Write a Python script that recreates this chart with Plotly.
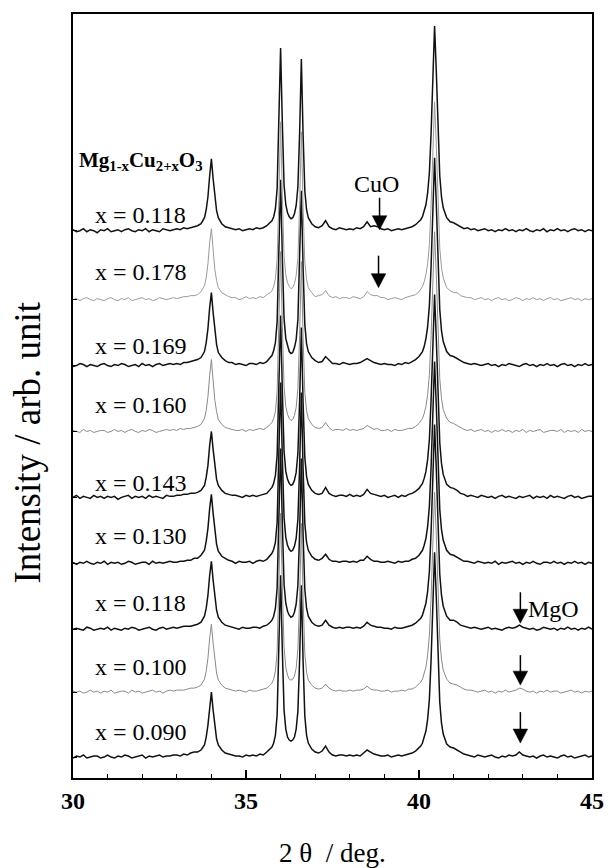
import plotly.graph_objects as go

# ---------------- data ----------------
two_theta = [
    30.0, 30.1, 30.2, 30.3, 30.4, 30.5, 30.6, 30.7, 30.8, 30.9, 31.0, 31.1, 31.2, 31.3, 31.4, 31.5, 31.6, 31.7,
    31.8, 31.9, 32.0, 32.1, 32.2, 32.3, 32.4, 32.5, 32.6, 32.7, 32.8, 32.9, 33.0, 33.1, 33.2, 33.3, 33.4, 33.5,
    33.6, 33.7, 33.8, 33.85, 33.9, 33.95, 34.0, 34.05, 34.1, 34.15, 34.2, 34.3, 34.4, 34.5,
    34.6, 34.7, 34.8, 34.9, 35.0, 35.1, 35.2, 35.3, 35.4, 35.5, 35.6, 35.7,
    35.75, 35.8, 35.85, 35.9, 35.95, 36.0, 36.05, 36.1, 36.15, 36.2, 36.25, 36.3, 36.35, 36.4, 36.45, 36.5,
    36.55, 36.6, 36.65, 36.7, 36.75, 36.8, 36.9,
    37.0, 37.1, 37.2, 37.3, 37.4, 37.5, 37.6, 37.7, 37.8, 37.9, 38.0, 38.1, 38.2, 38.3, 38.4, 38.5, 38.6,
    38.7, 38.8, 38.9, 39.0, 39.1, 39.2, 39.3, 39.4, 39.5, 39.6, 39.7, 39.8, 39.9, 40.0,
    40.05, 40.1, 40.15, 40.2, 40.25, 40.3, 40.35, 40.4, 40.45, 40.5, 40.55, 40.6, 40.65, 40.7, 40.8, 40.9,
    41.0, 41.1, 41.2, 41.3, 41.4, 41.5, 41.6, 41.7, 41.8, 41.9, 42.0, 42.1, 42.2, 42.3, 42.4, 42.5, 42.6,
    42.7, 42.8, 42.9, 43.0, 43.1, 43.2, 43.3, 43.4, 43.5, 43.6, 43.7, 43.8, 43.9, 44.0, 44.1, 44.2, 44.3,
    44.4, 44.5, 44.6, 44.7, 44.8, 44.9, 45.0,
]

# sample labels, bottom to top
samples = ["x = 0.090", "x = 0.100", "x = 0.118", "x = 0.130", "x = 0.143",
           "x = 0.160", "x = 0.169", "x = 0.178", "x = 0.118"]

# vertical offsets of each pattern (arb. unit), bottom to top
offsets = [21, 86, 149, 215, 281, 347, 413, 479, 548]

# intensities (arb. unit, above each pattern's baseline), bottom to top
i_090 = [
    -1, 1, 0, 2, -1, 0, 1, 1, -1, 0, 2, 0, -1, 1, 0, 2, 1, -1, 0, 1, 2, -1, 1, 0, 1, 2, 0, 1, 1, 2, 2, 1, 3, 2, 4, 5,
    5, 7, 12, 20, 32, 52, 65, 47, 29, 18, 12, 7, 4, 3,
    2, 1, 1, 0, 2, 1, 2, 1, 3, 2, 5, 8,
    10, 14, 22, 42, 104, 182, 107, 47, 28, 20, 17, 16, 17, 20, 28, 46, 98, 172, 96, 41, 22, 14, 8,
    5, 4, 6, 11, 5, 2, 1, 2, 2, 1, 2, 1, 2, 1, 4, 7, 5, 3, 2, 1, 1, 2, 0, 1, 2, 1, 2, 3, 4, 6, 9,
    11, 14, 19, 26, 38, 58, 98, 165, 205, 160, 95, 55, 34, 23, 13, 10,
    9, 7, 5, 3, 2, 1, 0, 2, 1, 0, 1, 2, 0, -1, 1, 0, 2, 1, 2, 5, 2, 1, 0, 1, -1, 1, 2, 0, 1, 0,
    -1, 1, 2, 0, 1, -1, 0, 1, 2, 0, 1,
]
i_100 = [
    1, 0, 1, -1, 0, 2, 0, 1, -1, 1, 0, 2, -1, 0, 1, 1, -1, 2, 0, 1, -1, 0, 1, 2, 0, 1, -1, 1, 2, 1, 2, 2, 2, 3, 4, 4,
    5, 7, 13, 21, 34, 54, 68, 49, 30, 19, 12, 7, 4, 3,
    2, 1, 2, 1, 0, 2, 1, 1, 2, 3, 4, 7,
    9, 13, 21, 40, 101, 179, 105, 45, 25, 17, 13, 12, 13, 16, 24, 43, 95, 169, 94, 39, 20, 12, 7,
    4, 3, 4, 8, 4, 2, 1, 2, 1, 1, 2, 1, 2, 2, 3, 6, 3, 2, 2, 1, 1, 2, 0, 1, 1, 2, 1, 3, 3, 5, 8,
    10, 13, 18, 25, 37, 57, 96, 162, 200, 157, 93, 53, 33, 22, 13, 9,
    8, 7, 5, 3, 2, 2, 1, 0, 1, 2, 0, 1, -1, 1, 0, 2, 0, 1, 2, 4, 3, 1, 0, 1, -1, 1, 0, 2, 0, 1,
    1, -1, 0, 1, 2, 0, 1, -1, 1, 0, 1,
]
i_118a = [
    0, 1, 0, -1, 2, 1, -1, 0, 1, 0, 2, -1, 1, 0, -1, 1, 0, 2, 1, -1, 0, 1, 2, 0, -1, 1, 2, 0, 1, 2, 1, 2, 3, 3, 3, 4,
    5, 7, 13, 21, 34, 54, 68, 49, 30, 19, 12, 7, 4, 3,
    2, 1, 0, 2, 1, 1, 2, 2, 1, 3, 4, 7,
    9, 13, 21, 41, 103, 181, 106, 45, 26, 18, 14, 12, 13, 17, 25, 44, 97, 171, 95, 40, 21, 13, 7,
    4, 3, 4, 9, 4, 2, 1, 2, 1, 2, 2, 1, 2, 1, 3, 7, 4, 3, 2, 2, 1, 1, 0, 2, 1, 1, 2, 3, 4, 6, 9,
    11, 14, 19, 26, 38, 58, 98, 165, 205, 160, 95, 55, 34, 23, 13, 9,
    9, 7, 4, 3, 2, 1, 2, 1, 0, 1, 2, 0, 1, 0, -1, 1, 2, 1, 2, 4, 2, 1, 0, 1, -1, 0, 2, 1, 0, 1,
    -1, 1, 0, 2, 0, 1, -1, 1, 0, 2, 0,
]
i_130 = [
    1, -1, 1, 0, 2, 0, -1, 1, 0, 2, -1, 1, 0, 1, -1, 0, 2, 1, -1, 0, 1, 1, -1, 2, 0, 1, 0, 1, 2, 1, 1, 2, 2, 3, 3, 5,
    5, 8, 13, 22, 35, 55, 69, 50, 31, 19, 12, 7, 5, 3,
    2, 0, 2, 1, 1, 2, 0, 2, 3, 2, 4, 8,
    10, 14, 21, 41, 103, 181, 106, 46, 26, 18, 14, 12, 13, 17, 25, 44, 97, 171, 95, 40, 21, 13, 7,
    4, 3, 5, 9, 4, 2, 2, 1, 2, 2, 1, 2, 1, 3, 3, 7, 4, 2, 2, 1, 1, 2, 1, 0, 2, 1, 2, 2, 4, 5, 8,
    10, 13, 18, 25, 37, 57, 97, 163, 202, 158, 94, 54, 34, 23, 13, 9,
    8, 6, 4, 2, 2, 1, 0, 2, 1, 0, 1, 0, 2, -1, 1, 0, 1, 2, 0, 1, -1, 1, 0, 2, 0, -1, 1, 1, 0, 2,
    0, 1, -1, 1, 0, 2, 0, 1, -1, 1, 0,
]
i_143 = [
    0, 2, -1, 1, 0, -1, 2, 0, 1, -1, 1, 0, 1, -2, 0, 1, 2, -1, 1, 0, 1, -1, 2, 0, 1, 0, -1, 2, 1, 1, 2, 2, 3, 3, 4, 4,
    5, 7, 12, 20, 32, 52, 66, 48, 29, 18, 12, 7, 4, 3,
    2, 2, 1, 0, 2, 1, 2, 1, 2, 3, 4, 8,
    10, 14, 22, 42, 104, 182, 107, 46, 26, 18, 14, 12, 13, 17, 25, 44, 97, 170, 95, 40, 21, 13, 7,
    4, 3, 4, 10, 4, 2, 1, 2, 2, 1, 3, 1, 2, 1, 3, 8, 4, 3, 2, 1, 2, 0, 1, 2, 0, 2, 1, 3, 4, 6, 9,
    11, 14, 19, 26, 38, 58, 98, 164, 203, 159, 95, 55, 34, 23, 13, 10,
    9, 7, 4, 3, 1, 2, 1, 0, 2, 1, 0, 1, -1, 1, 2, 0, 1, 0, -1, 1, 0, 1, 2, -1, 1, 0, 1, -1, 2, 0,
    1, 0, -1, 1, 2, 0, 1, -1, 0, 1, 1,
]
i_160 = [
    1, 0, -1, 2, 0, 1, -1, 0, 1, 1, -1, 0, 2, 0, 1, -1, 1, 2, 0, -1, 1, 0, 2, 1, -1, 0, 1, 2, 1, 2, 1, 3, 2, 3, 3, 4,
    5, 7, 13, 21, 35, 56, 72, 51, 31, 20, 12, 7, 4, 3,
    2, 1, 1, 2, 0, 2, 1, 2, 3, 2, 4, 7,
    9, 13, 20, 40, 102, 180, 106, 45, 25, 17, 13, 11, 12, 16, 24, 43, 96, 170, 94, 39, 21, 13, 7,
    4, 3, 4, 9, 4, 1, 2, 2, 1, 3, 1, 2, 1, 2, 3, 6, 4, 2, 3, 1, 1, 2, 0, 2, 1, 1, 2, 3, 3, 5, 8,
    10, 13, 18, 25, 37, 57, 96, 162, 200, 157, 93, 53, 33, 22, 13, 9,
    8, 6, 4, 2, 1, 2, 0, 1, 2, 0, 1, -1, 1, 0, 2, 0, 1, -1, 1, 0, 2, -1, 1, 0, 1, 2, -1, 0, 1, 1,
    0, 2, -1, 1, 0, 1, -1, 2, 0, 1, 0,
]
i_169 = [
    -1, 0, 2, 1, -1, 1, 0, -1, 1, 2, 0, -1, 1, 0, 2, 1, -1, 0, 1, -1, 2, 0, 1, -1, 1, 2, 0, 1, 2, 1, 2, 1, 3, 3, 4, 5,
    6, 8, 14, 23, 37, 58, 73, 53, 33, 21, 13, 8, 5, 3,
    3, 1, 2, 1, 0, 2, 2, 1, 3, 2, 4, 8,
    10, 15, 23, 44, 108, 186, 110, 47, 27, 19, 14, 12, 13, 18, 26, 46, 100, 175, 98, 41, 22, 14, 8,
    5, 3, 4, 9, 5, 2, 2, 1, 3, 2, 1, 2, 2, 3, 5, 7, 5, 3, 2, 1, 2, 1, 1, 0, 2, 1, 3, 2, 4, 6, 9,
    11, 14, 19, 27, 39, 60, 100, 168, 208, 162, 97, 56, 35, 24, 14, 10,
    9, 7, 5, 3, 2, 1, 2, 1, 0, 1, 2, 0, 1, -1, 1, 0, 2, 1, 0, -1, 1, 2, 0, 1, -1, 1, 0, 2, 0, 1,
    -1, 1, 2, 0, 1, -1, 1, 0, 2, 0, 1,
]
i_178 = [
    0, 1, -1, 1, 2, 0, -1, 1, 0, -1, 1, 2, 0, -1, 1, 0, 2, -1, 0, 1, 2, 0, 1, -1, 0, 2, 1, 0, 1, 2, 1, 2, 3, 3, 4, 4,
    5, 8, 14, 22, 36, 57, 71, 50, 30, 19, 12, 7, 5, 3,
    2, 2, 0, 1, 3, 1, 2, 1, 3, 2, 5, 7,
    9, 13, 21, 40, 100, 178, 104, 44, 25, 17, 13, 11, 12, 16, 24, 42, 95, 168, 92, 38, 20, 12, 7,
    3, 4, 5, 9, 4, 2, 3, 1, 2, 2, 1, 3, 2, 1, 3, 8, 5, 4, 4, 2, 2, 0, 1, 2, 1, 0, 2, 3, 4, 5, 8,
    10, 13, 18, 25, 36, 55, 95, 160, 198, 155, 92, 52, 32, 22, 12, 9,
    7, 7, 4, 3, 2, 2, 0, 1, 2, 0, 1, -1, 1, 2, 0, 1, -1, 0, 2, 1, -1, 1, 0, 2, 0, 1, -1, 1, 2, 0,
    1, -1, 0, 1, 2, 0, 1, -1, 1, 0, 1,
]
i_118b = [
    1, -1, 0, 2, -1, 1, 0, -2, 1, 0, 2, -1, 0, 1, -1, 1, 2, 0, -1, 1, 0, 2, -1, 1, 0, -1, 2, 1, 0, 1, 2, 1, 3, 2, 3, 4,
    5, 7, 13, 21, 34, 55, 72, 52, 32, 20, 13, 7, 4, 3,
    2, 1, 2, 0, 1, 2, 1, 3, 2, 3, 5, 8,
    10, 14, 22, 42, 105, 183, 108, 46, 26, 18, 14, 12, 13, 17, 25, 44, 98, 172, 96, 40, 21, 13, 7,
    4, 3, 5, 10, 4, 2, 1, 3, 2, 1, 2, 1, 3, 2, 4, 9, 4, 5, 4, 2, 1, 2, 0, 1, 2, 1, 2, 3, 4, 6, 9,
    11, 14, 19, 26, 38, 58, 98, 165, 205, 160, 95, 55, 34, 23, 13, 9,
    8, 6, 4, 2, 3, 1, 2, 0, 1, 2, 0, 1, -1, 1, 0, 2, 0, 1, -1, 1, 0, 2, 0, -1, 1, 0, 2, -1, 1, 0,
    2, 0, 1, -1, 1, 2, 0, 1, -1, 1, 0,
]

intensities = [i_090, i_100, i_118a, i_130, i_143, i_160, i_169, i_178, i_118b]

# marked impurity reflections: (2theta, pattern index)
cuo_marks = [(38.86, 8), (38.83, 7)]
mgo_marks = [(42.93, 2), (42.93, 1), (42.93, 0)]

x_ticks = [30, 35, 40, 45]

# ---------------- styles ----------------
line_colors = ["#111111", "#8a8a8a", "#111111", "#111111", "#111111",
               "#8a8a8a", "#111111", "#9a9a9a", "#111111"]
line_widths = [1.5, 1.0, 1.5, 1.5, 1.5, 1.0, 1.5, 1.0, 1.5]
label_dy = [25, 25, 26, 27, 14, 26, 20, 28, 16]   # label height above baseline
# arrow (tip, tail) heights above baseline, same order as cuo_marks + mgo_marks
arrow_dy = [(1, 33), (12, 44), (6, 37), (7, 37), (14, 45)]
HEAD_HALF_W = 0.21   # deg (about 7 px)
HEAD_LEN = 14        # axis units (px)
SERIF = "Liberation Serif, Times New Roman, serif"

fig = go.Figure()
for k, (vals, off) in enumerate(zip(intensities, offsets)):
    assert len(vals) == len(two_theta), (k, len(vals))
    fig.add_trace(go.Scatter(
        x=two_theta, y=[v + off for v in vals], mode="lines",
        line=dict(color=line_colors[k], width=line_widths[k]),
        showlegend=False, hoverinfo="skip"))

annotations = []
for k, (lab, off) in enumerate(zip(samples, offsets)):
    annotations.append(dict(x=31.96, y=off + label_dy[k], xref="x", yref="y", text=lab,
                            showarrow=False, xanchor="center", yanchor="middle",
                            font=dict(family=SERIF, size=24, color="black")))

annotations.append(dict(x=31.96, y=offsets[-1] + 70, xref="x", yref="y",
                        text="<b>Mg<sub>1-x</sub>Cu<sub>2+x</sub>O<sub>3</sub></b>",
                        showarrow=False, xanchor="center", yanchor="middle",
                        font=dict(family=SERIF, size=21, color="black")))

shapes = []
for (xm, k), (tip, tail) in zip(cuo_marks + mgo_marks, arrow_dy):
    base = offsets[k]
    y_tip = base + tip
    y_head = y_tip + HEAD_LEN
    shapes.append(dict(type="line", xref="x", yref="y", x0=xm, x1=xm,
                       y0=base + tail, y1=y_head - 1, line=dict(color="black", width=1.5)))
    shapes.append(dict(type="path", xref="x", yref="y",
                       path=f"M {xm - HEAD_HALF_W},{y_head} L {xm + HEAD_HALF_W},{y_head} L {xm},{y_tip} Z",
                       fillcolor="black", line=dict(color="black", width=0.5)))

annotations.append(dict(x=38.78, y=offsets[8] + 47, xref="x", yref="y", text="CuO",
                        showarrow=False, xanchor="center", yanchor="middle",
                        font=dict(family=SERIF, size=24, color="black")))
annotations.append(dict(x=43.89, y=offsets[2] + 20, xref="x", yref="y", text="MgO",
                        showarrow=False, xanchor="center", yanchor="middle",
                        font=dict(family=SERIF, size=24, color="black")))

annotations.append(dict(x=0.5, y=-0.098, xref="paper", yref="paper", text="2 θ  / deg.",
                        showarrow=False, xanchor="center", yanchor="middle",
                        font=dict(family=SERIF, size=27, color="black")))
annotations.append(dict(x=-0.087, y=0.439, xref="paper", yref="paper",
                        text="Intensity / arb. unit", textangle=-90,
                        showarrow=False, xanchor="center", yanchor="middle",
                        font=dict(family=SERIF, size=37, color="black")))

fig.update_layout(
    width=616, height=868,
    margin=dict(l=73, r=15, t=13, b=90),
    plot_bgcolor="white", paper_bgcolor="white",
    annotations=annotations,
    shapes=shapes,
    xaxis=dict(range=[30, 45], tickvals=x_ticks, ticktext=[f"<b>{t}</b>" for t in x_ticks],
               ticks="inside", ticklen=8, tickwidth=1.5, tickcolor="black",
               minor=dict(dtick=1, ticks="inside", ticklen=4, tickcolor="black", tickwidth=1),
               showline=True, linecolor="black", linewidth=2, mirror=True,
               showgrid=False, zeroline=False,
               tickfont=dict(family=SERIF, size=24, color="black")),
    yaxis=dict(range=[0, 765], tickvals=offsets, ticks="inside", ticklen=4,
               tickcolor="black", showticklabels=False,
               showline=True, linecolor="black", linewidth=2, mirror=True,
               showgrid=False, zeroline=False),
)

fig.write_html("out.html")
